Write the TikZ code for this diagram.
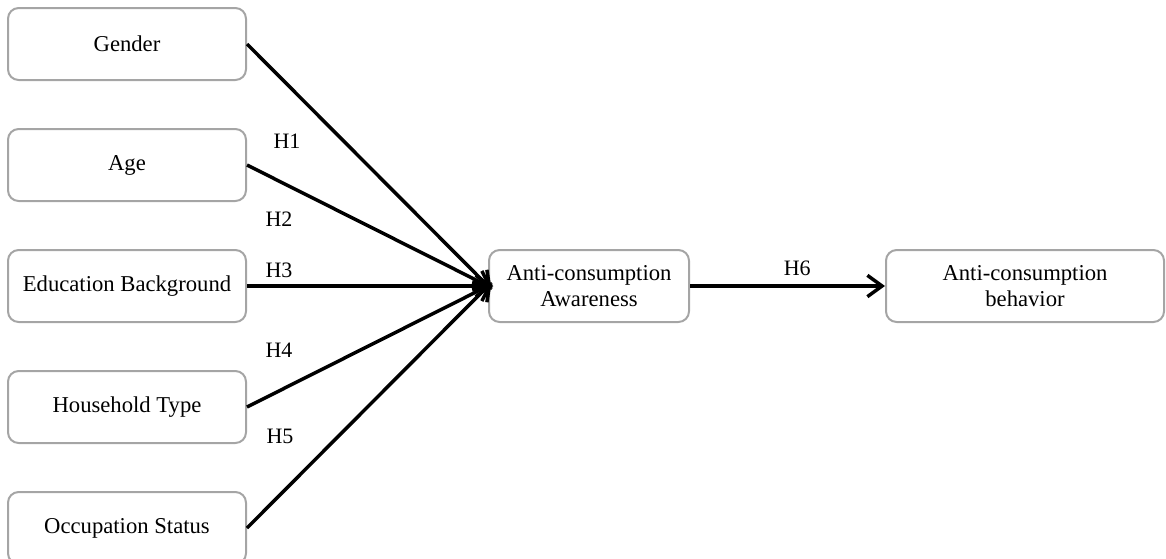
\documentclass[tikz,border=0pt]{standalone}
\usepackage{fontspec}
\setmainfont{Liberation Serif}
\usetikzlibrary{arrows.meta,positioning}
\definecolor{boxgray}{RGB}{165,165,165}

\begin{document}
\begin{tikzpicture}[x=0.75pt,y=0.75pt,>={Straight Barb[length=11pt,width=16pt]},
    node distance=35.25pt and 180.75pt,
    factor/.style={draw=boxgray, line width=1.5pt, rounded corners=8pt,
      minimum width=178.5pt, minimum height=54pt, align=center,
      font=\fontsize{17}{19}\selectfont},
    hyp/.style={font=\fontsize{16.5}{19}\selectfont},
    link/.style={line width=2.6pt}]
    \useasboundingbox (0,0) rectangle (1166,-558);

    \node[factor] (gender) at (127,-44) {Gender};
    \node[factor] (age)   [below=of gender] {Age};
    \node[factor] (edu)   [below=of age]    {Education Background};
    \node[factor] (house) [below=of edu]    {Household Type};
    \node[factor] (occup) [below=of house]  {Occupation Status};
    \node[factor, minimum width=150pt] (aware) [right=of edu]
      {Anti-consumption\\Awareness};
    \node[factor, minimum width=208.5pt] (behav) [right=146.25pt of aware]
      {Anti-consumption\\behavior};

    \node[hyp] (h1) at (287,-141) {H1};
    \node[hyp] (h2) at (279,-219) {H2};
    \node[hyp] (h3) at (279,-270) {H3};
    \node[hyp] (h4) at (279,-350) {H4};
    \node[hyp] (h5) at (280,-436) {H5};

    \path[->, link, shorten >=-4pt]
    (gender.east) edge (aware.west)
    (age.east)    edge (aware.west)
    (edu.east)    edge (aware.west)
    (house.east)  edge (aware.west)
    (occup.east)  edge (aware.west)
    ;
    \path[->, link]
    (aware) edge node[hyp, above=3pt, pos=0.55] (h6) {H6} (behav);
\end{tikzpicture}
\end{document}
